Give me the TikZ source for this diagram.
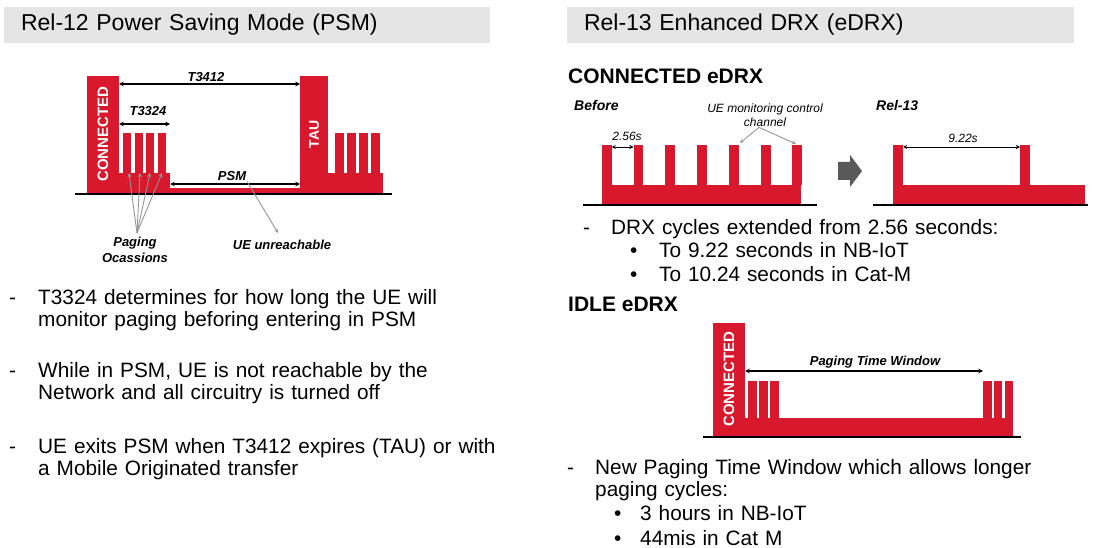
\documentclass[tikz,border=0pt]{standalone}
\usepackage{fontspec}
\setmainfont{Liberation Sans}
\usetikzlibrary{arrows}

\definecolor{lteRed}{RGB}{216,24,44}
\definecolor{hintGray}{RGB}{150,150,150}

\begin{document}
\begin{tikzpicture}
  [
    x=1pt,y=-1pt,
    header/.style={fill=black!10,inner xsep=17pt,align=left,minimum height=36pt,
      font=\fontsize{23}{26}\selectfont},
    wave/.style={fill=lteRed},
    ground/.style={draw=black,line width=1.6pt},
    dim/.style={stealth-stealth,line width=1.1pt},
    pointer/.style={-stealth,draw=hintGray,line width=0.9pt},
    lbl/.style={font=\fontsize{13}{14}\selectfont\bfseries\itshape,inner sep=1pt},
    small/.style={font=\fontsize{12}{13.5}\selectfont\itshape,inner sep=1pt,align=center},
    inbar/.style={rotate=90,text=white,font=\fontsize{15}{15}\selectfont\bfseries},
    title/.style={font=\fontsize{21}{24}\selectfont\bfseries,anchor=base west,inner sep=0},
    body/.style={font=\fontsize{20.8}{22.5}\selectfont,anchor=base west,inner sep=0,
      align=left,text width=470pt}
  ]
  \useasboundingbox (0,0) rectangle (1099,548);

  % section headers
  \node at (247,25) [header,text width=452pt] (psmhead) {Rel-12 Power Saving Mode (PSM)};
  \node at (820.5,25) [header,text width=473pt] (edrxhead) {Rel-13 Enhanced DRX (eDRX)};

  % ---- PSM timeline ----
  \fill [wave] (87,76) rectangle (119,194);
  \fill [wave] (119,173) rectangle (170,194);
  \foreach \x in {123,135,146,158}
    \fill [wave] (\x,133) rectangle ++(8,40);
  \fill [wave] (170,188) rectangle (300,194);
  \fill [wave] (300,76) rectangle (328,194);
  \fill [wave] (328,173) rectangle (383,194);
  \foreach \x in {335,347,359,371}
    \fill [wave] (\x,133) rectangle ++(8.5,40);
  \draw [ground] (75,194) -- (392,194);

  \node at (103,134) [inbar] (psmconn) {CONNECTED};
  \node at (314,134.5) [inbar,font=\fontsize{14}{14}\selectfont\bfseries] (tau) {TAU};

  \coordinate (t3412l) at (119,84);
  \coordinate (t3412r) at (300,84);
  \coordinate (t3324l) at (119,124);
  \coordinate (t3324r) at (170,124);
  \coordinate (psml) at (170,184);
  \coordinate (psmr) at (300,184);
  \draw [dim] (t3412l) -- (t3412r);
  \draw [dim] (t3324l) -- (t3324r);
  \draw [dim] (psml) -- (psmr);
  \node at (206,77) [lbl] (t3412) {T3412};
  \node at (148,111) [lbl] (t3324) {T3324};
  \node at (232,176) [lbl] (psm) {PSM};

  \node at (135,250) [lbl,align=center,font=\fontsize{13}{15.5}\selectfont\bfseries\itshape]
    (pagocc) {Paging\\Ocassions};
  \node at (282,245) [lbl] (unreach) {UE unreachable};
  \coordinate (pofan) at (137,233);
  \foreach \x [count=\i] in {129,140,150,162}
    \coordinate (po\i) at (\x,173);
  \foreach \i in {1,...,4}
    \draw [pointer] (pofan) -- (po\i);
  \coordinate (unreachtip) at (278,233);
  \draw [pointer] (psm.south east) -- (unreachtip);

  % PSM notes
  \node at (9,304) [body] (dashA) {-};
  \node at (38,304) [body] (noteA) {T3324 determines for how long the UE will\\monitor paging beforing entering in PSM};
  \node at (9,377) [body] (dashB) {-};
  \node at (38,377) [body] (noteB) {While in PSM, UE is not reachable by the\\Network and all circuitry is turned off};
  \node at (9,453) [body] (dashC) {-};
  \node at (38,453) [body] (noteC) {UE exits PSM when T3412 expires (TAU) or with\\a Mobile Originated transfer};

  % ---- connected eDRX ----
  \node at (568,84) [title] (conntitle) {CONNECTED eDRX};
  \node at (573,111) [lbl,anchor=base west,font=\fontsize{14}{14}\selectfont\bfseries\itshape] (before) {Before};
  \node at (875,111) [lbl,anchor=base west,font=\fontsize{14}{14}\selectfont\bfseries\itshape] (rel13) {Rel-13};

  \fill [wave] (602,185) rectangle (801,205);
  \foreach \x in {602,633.5,665,697,729,761,792}
    \fill [wave] (\x,145) rectangle ++(9.5,40);
  \draw [ground] (583,205) -- (817,205);

  \coordinate (drxl) at (611.5,147);
  \coordinate (drxr) at (633.5,147);
  \draw [dim,line width=0.9pt] (drxl) -- (drxr);
  \node at (627,136) [small] (drxold) {2.56s};

  \node at (765,115) [small] (monitor) {UE monitoring control\\channel};
  \coordinate (monA) at (740,143);
  \coordinate (monB) at (796,144);
  \draw [pointer] (monitor.south) ++(-6,0) -- (monA);
  \draw [pointer] (monitor.south) ++(-6,0) -- (monB);

  % big grey arrow between before and after
  \fill [black!65] (838,162) -- (850,162) -- (850,155) -- (862,171) -- (850,187)
    -- (850,180) -- (838,180) -- cycle;

  \fill [wave] (893,145) rectangle (903,205);
  \fill [wave] (903,185) rectangle (1085,205);
  \fill [wave] (1020,145) rectangle (1029.5,185);
  \draw [ground] (873,205) -- (1088,205);

  \coordinate (drxnl) at (903,147);
  \coordinate (drxnr) at (1020,147);
  \draw [dim,line width=0.9pt] (drxnl) -- (drxnr);
  \node at (963,138) [small] (drxnew) {9.22s};

  % connected eDRX notes
  \node at (583,234) [body] (dashD) {-};
  \node at (611,234) [body] (noteD) {DRX cycles extended from 2.56 seconds:};
  \node at (630,257.5) [body] (dotD1) {\textbullet};
  \node at (659,257.5) [body] (noteD1) {To 9.22 seconds in NB-IoT};
  \node at (630,281) [body] (dotD2) {\textbullet};
  \node at (659,281) [body] (noteD2) {To 10.24 seconds in Cat-M};

  % ---- idle eDRX ----
  \node at (568,311) [title] (idletitle) {IDLE eDRX};

  \fill [wave] (713,323) rectangle (745,436);
  \fill [wave] (745,418) rectangle (1013,436);
  \foreach \x in {748,759,770}
    \fill [wave] (\x,381) rectangle ++(8.5,37);
  \foreach \x in {983,993.5,1004.5}
    \fill [wave] (\x,381) rectangle ++(8.5,37);
  \draw [ground] (703,437) -- (1021,437);
  \node at (729,379) [inbar] (idleconn) {CONNECTED};

  \coordinate (ptwl) at (745,371);
  \coordinate (ptwr) at (983,371);
  \draw [dim] (ptwl) -- (ptwr);
  \node at (875,362) [lbl] (ptw) {Paging Time Window};

  % idle eDRX notes
  \node at (567,474) [body] (dashE) {-};
  \node at (595,474) [body] (noteE) {New Paging Time Window which allows longer\\paging cycles:};
  \node at (614,520.5) [body] (dotE1) {\textbullet};
  \node at (640,520.5) [body] (noteE1) {3 hours in NB-IoT};
  \node at (614,545.5) [body] (dotE2) {\textbullet};
  \node at (640,545.5) [body] (noteE2) {44mis in Cat M};
\end{tikzpicture}
\end{document}
